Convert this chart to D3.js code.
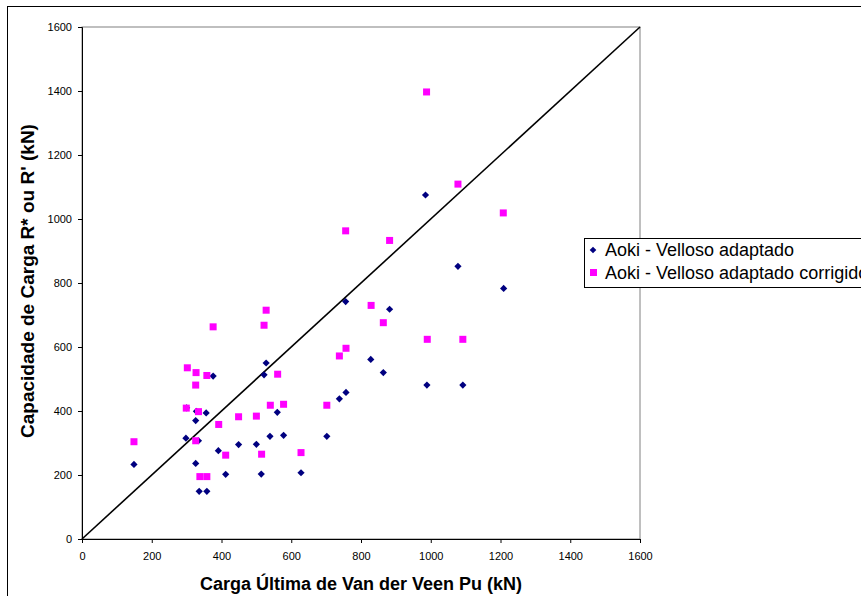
<!DOCTYPE html>
<html>
<head>
<meta charset="utf-8">
<script src="https://cdn.jsdelivr.net/npm/d3@7"></script>
<style>
html,body{margin:0;padding:0;background:#fff;}
svg{display:block;}
text{font-family:"Liberation Sans",Arial,sans-serif;}
</style>
</head>
<body>
<svg id="chart" width="861" height="596"></svg>
<script>
const xTicks = [0,200,400,600,800,1000,1200,1400,1600];
const yTicks = [0,200,400,600,800,1000,1200,1400,1600];
const seriesNames = ["Aoki - Velloso adaptado","Aoki - Velloso adaptado corrigido"];
const xTitle = "Carga Última de Van der Veen Pu (kN)";
const yTitle = "Capacidade de Carga R* ou R' (kN)";

// Aoki - Velloso adaptado (Pu, R*)
const puA = [149,298,300,326,326,328,334,336,356,358,376,391,412,449,500,514,522,528,539,560,578,628,702,738,756,757,828,864,882,985,989,1078,1092,1209];
const rA  = [233,315,410,236,370,399,307,149,394,149,509,276,202,295,296,203,513,550,321,396,324,207,321,438,742,458,561,520,718,1075,481,852,481,783];
// Aoki - Velloso adaptado corrigido (Pu, R')
const puB = [149,299,302,326,326,327,334,338,358,358,376,392,412,449,500,515,522,528,540,561,578,628,702,738,756,757,829,864,882,988,990,1078,1092,1208];
const rB  = [304,409,535,481,307,520,398,195,511,195,663,358,262,382,384,265,668,715,418,515,421,270,418,572,963,596,730,676,933,1397,624,1109,624,1019];

(function(){
const svg = d3.select("#chart");
const pL = 82, pR = 640, pT = 27, pB = 539;
const x = d3.scaleLinear().domain([0,1600]).range([pL,pR]);
const y = d3.scaleLinear().domain([0,1600]).range([pB,pT]);

// outer chart border
svg.append("rect").attr("x",7.5).attr("y",6.5).attr("width",900).attr("height",700)
  .attr("fill","none").attr("stroke","#000").attr("stroke-width",1);

// plot area border
svg.append("rect").attr("x",pL).attr("y",pT).attr("width",pR-pL).attr("height",pB-pT)
  .attr("fill","none").attr("stroke","#808080").attr("stroke-width",1);

// axes
const xAxis = svg.append("g").attr("transform",`translate(0,${pB})`)
  .call(d3.axisBottom(x).tickValues(xTicks).tickSize(4).tickPadding(9).tickFormat(d3.format("d")));
const yAxis = svg.append("g").attr("transform",`translate(${pL},0)`)
  .call(d3.axisLeft(y).tickValues(yTicks).tickSize(4).tickPadding(6).tickFormat(d3.format("d")));
[xAxis,yAxis].forEach(g=>{
  g.select(".domain").attr("stroke","#000");
  g.selectAll(".tick line").attr("stroke","#000");
  g.selectAll(".tick text").attr("fill","#000").style("font-size","11px")
   .style("font-family","'Liberation Sans Narrow','Liberation Sans',Arial,sans-serif");
});

// diagonal line of equality
svg.append("line")
  .attr("x1",x(0)).attr("y1",y(0)).attr("x2",x(1600)).attr("y2",y(1600))
  .attr("stroke","#000").attr("stroke-width",1.6);

// series A: navy diamonds
const diamond = d3.symbol().type(d3.symbolSquare).size(26);
svg.append("g").selectAll("path").data(puA.map((p,i)=>[p,rA[i]])).join("path")
  .attr("d",diamond)
  .attr("transform",d=>`translate(${x(d[0])},${y(d[1])}) rotate(45)`)
  .attr("fill","#000080");

// series B: magenta squares
const sq = 7;
svg.append("g").selectAll("rect").data(puB.map((p,i)=>[p,rB[i]])).join("rect")
  .attr("x",d=>x(d[0])-sq/2).attr("y",d=>y(d[1])-sq/2)
  .attr("width",sq).attr("height",sq).attr("fill","#FF00FF");

// axis titles
svg.append("text").attr("x",361).attr("y",590).attr("text-anchor","middle")
  .style("font-size","18px").style("font-weight","bold").text(xTitle);
svg.append("text").attr("transform","translate(34,281) rotate(-90)").attr("text-anchor","middle")
  .style("font-size","19px").style("font-weight","bold").text(yTitle);

// legend
const lg = svg.append("g");
lg.append("rect").attr("x",584.5).attr("y",238.5).attr("width",300).attr("height",49)
  .attr("fill","#fff").attr("stroke","#000").attr("stroke-width",1);
lg.append("path").attr("d",d3.symbol().type(d3.symbolSquare).size(22))
  .attr("transform","translate(593,250) rotate(45)").attr("fill","#000080");
lg.append("rect").attr("x",590).attr("y",269).attr("width",7).attr("height",7).attr("fill","#FF00FF");
lg.append("text").attr("x",605).attr("y",256).style("font-size","18px").text(seriesNames[0]);
lg.append("text").attr("x",605).attr("y",279).style("font-size","18px").text(seriesNames[1]);
})();
</script>
</body>
</html>
